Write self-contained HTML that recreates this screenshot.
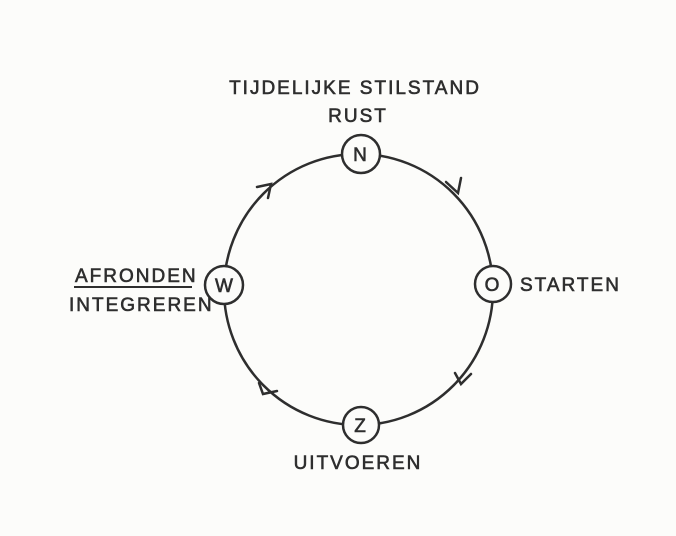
<!DOCTYPE html>
<html><head><style>
html,body{margin:0;padding:0;background:#fcfcfa;}
svg{display:block}
text{font-family:"Liberation Sans",sans-serif;fill:#2e2e2e;font-size:19px;letter-spacing:2px;stroke:#2e2e2e;stroke-width:0.6}
</style></head><body>
<svg width="676" height="536" viewBox="0 0 676 536">
<rect width="676" height="536" fill="#fcfcfa"/>
<ellipse cx="358.5" cy="289.5" rx="134.5" ry="135.5" fill="none" stroke="#2e2e2e" stroke-width="2.5"/>
<g fill="#fcfcfa" stroke="#2e2e2e" stroke-width="2.5">
<circle cx="361" cy="154" r="19"/>
<circle cx="493" cy="284" r="18"/>
<circle cx="361" cy="425" r="18"/>
<circle cx="224" cy="285" r="19"/>
</g>
<g text-anchor="middle" style="font-size:18px;letter-spacing:0">
<text x="361" y="161">N</text>
<text x="493" y="291">O</text>
<text x="361" y="432">Z</text>
<text x="225" y="292">W</text>
</g>
<g fill="none" stroke="#2e2e2e" stroke-width="2.5" stroke-linecap="round">
<path d="M446 182 L458 193 L461 178"/>
<path d="M455 373 L461 384 L471 374"/>
<path d="M259 383 L263 394 L277 391"/>
<path d="M257 187 L271 184 L268 198"/>
</g>
<text x="355" y="94" text-anchor="middle">TIJDELIJKE STILSTAND</text>
<text x="358" y="122" text-anchor="middle">RUST</text>
<text x="520" y="291">STARTEN</text>
<text x="358" y="469" text-anchor="middle">UITVOEREN</text>
<text x="75" y="282">AFRONDEN</text>
<line x1="74" y1="287" x2="192" y2="287" stroke="#2e2e2e" stroke-width="2"/>
<text x="69" y="311">INTEGREREN</text>
</svg>
</body></html>
